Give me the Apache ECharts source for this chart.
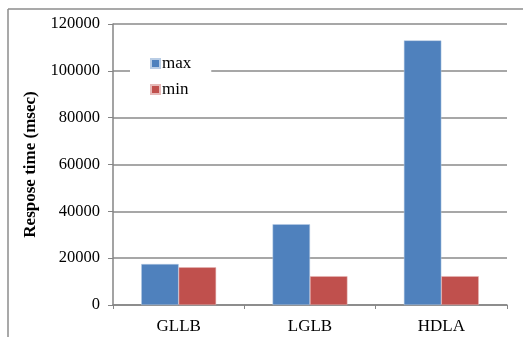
<!DOCTYPE html>
<html>
<head>
<meta charset="utf-8">
<script src="https://cdn.jsdelivr.net/npm/echarts@6/dist/echarts.min.js"></script>
<style>
  html, body { margin: 0; padding: 0; background: #fff; }
  #chart { width: 523px; height: 337px; }
</style>
</head>
<body>
<div id="chart"></div>
<script>
// Response time per load-balancing scheme
const categories = ['GLLB', 'LGLB', 'HDLA'];
const maxValues = [17500, 34500, 113000];
const minValues = [16100, 12300, 12300];
const yTicks = { min: 0, max: 120000, interval: 20000 };

const serif = '"Liberation Serif", "Times New Roman", serif';
const gridColor = '#8a8a8a';

const chart = echarts.init(document.getElementById('chart'), null, { renderer: 'canvas' });
chart.setOption({
  animation: false,
  backgroundColor: '#fff',
  textStyle: { fontFamily: serif, color: '#000' },
  graphic: [
    { type: 'line', shape: { x1: 8, y1: 9, x2: 523, y2: 9 }, style: { stroke: '#8c8c8c', lineWidth: 1.5 } },
    { type: 'line', shape: { x1: 8, y1: 9, x2: 8, y2: 337 }, style: { stroke: '#8c8c8c', lineWidth: 1.5 } }
  ],
  grid: { left: 113, right: 16, top: 24, bottom: 32 },
  legend: {
    orient: 'vertical',
    left: 130,
    top: 51,
    padding: [4, 20, 4, 20],
    backgroundColor: '#fff',
    itemWidth: 9,
    itemHeight: 9,
    itemGap: 9,
    icon: 'rect',
    textStyle: { fontFamily: serif, fontSize: 17, color: '#000', padding: [0, 0, 0, -3] },
    data: ['max', 'min']
  },
  xAxis: {
    type: 'category',
    data: categories,
    axisLine: { lineStyle: { color: '#858585', width: 1.5 } },
    axisTick: { show: true, alignWithLabel: false, length: 4, lineStyle: { color: '#858585' } },
    axisLabel: { fontFamily: serif, fontSize: 17, color: '#000', margin: 13 }
  },
  yAxis: {
    type: 'value',
    min: yTicks.min,
    max: yTicks.max,
    interval: yTicks.interval,
    name: 'Respose time (msec)',
    nameLocation: 'middle',
    nameGap: 73,
    nameTextStyle: { fontFamily: serif, fontSize: 17, fontWeight: 'bold', color: '#000' },
    axisLine: { show: true, lineStyle: { color: '#858585', width: 1.5 } },
    axisTick: { show: true, inside: false, length: 5, lineStyle: { color: '#858585' } },
    axisLabel: { fontFamily: serif, fontSize: 16.5, color: '#000', margin: 13, formatter: v => String(v) },
    splitLine: { lineStyle: { color: gridColor, width: 1.5 } }
  },
  series: [
    {
      name: 'max',
      type: 'bar',
      data: maxValues,
      barGap: '0%',
      barCategoryGap: '43%',
      itemStyle: { color: '#4f81bd', borderColor: '#b9cde5', borderWidth: 0.5 }
    },
    {
      name: 'min',
      type: 'bar',
      data: minValues,
      itemStyle: { color: '#c0504d', borderColor: '#e6b9b8', borderWidth: 0.5 }
    }
  ]
});
</script>
</body>
</html>
